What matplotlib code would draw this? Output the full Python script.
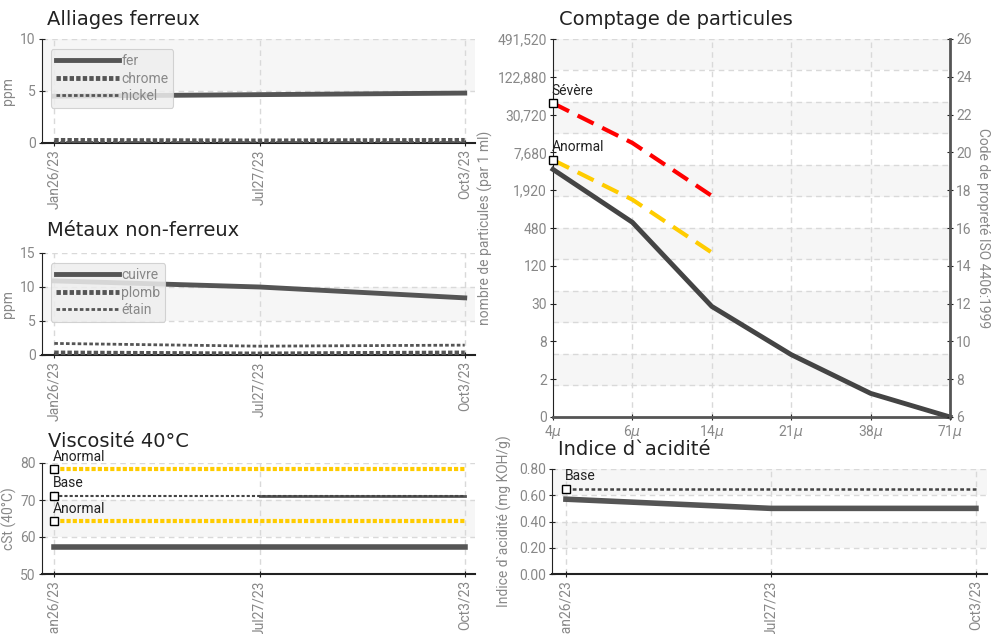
import numpy as np
import matplotlib.pyplot as plt

plt.rcParams['font.family'] = ['Roboto', 'DejaVu Sans']

# --- data ---
dates = ['Jan26/23', 'Jul27/23', 'Oct3/23']

fer = [4.5, 4.65, 4.8]
chrome = [0.25, 0.2, 0.25]
nickel = [0.1, 0.1, 0.1]

cuivre = [10.9, 10.0, 8.4]
plomb = [0.3, 0.15, 0.3]
etain = [1.7, 1.3, 1.45]

visco = [57.4, 57.4, 57.4]
visco_base = [71.1, 71.1, 71.1]
visco_haut = [78.3, 78.3, 78.3]
visco_bas = [64.2, 64.2, 64.2]

acide = [0.57, 0.50, 0.50]
acide_base = [0.65, 0.65, 0.65]

tailles = ['4', '6', '14', '21', '38', '71']
code_iso = [19.1, 16.3, 11.85, 9.3, 7.25, 6.0]
code_anormal = [19.6, 17.5, 14.7]
code_severe = [22.6, 20.5, 17.7]
code_ticks = [6, 8, 10, 12, 14, 16, 18, 20, 22, 24, 26]
compte_labels = ['0', '2', '8', '30', '120', '480', '1,920', '7,680',
                 '30,720', '122,880', '491,520']

DARK = '#555555'
TICKC = '#888888'
BAND = '#f6f6f6'
GRIDC = '#d9d9d9'
YELLOW = '#ffcc00'
TITLEFONT = ['DejaVu Sans']
FS = 10

fig = plt.figure(figsize=(9.96, 6.34), dpi=100)
W, H = 996.0, 634.0


def px_axes(l, t, r, b):
    return fig.add_axes([l / W, 1 - b / H, (r - l) / W, (b - t) / H])


def title(x, y, s):
    fig.text(x / W, 1 - y / H, s, family=TITLEFONT, fontsize=14,
             color='#222222', ha='left', va='baseline')


def style(ax, ylim, yticks, ylabel, bands, n, labx):
    ax.set_ylim(*ylim)
    ax.set_yticks(yticks)
    for lo, hi in bands:
        ax.axhspan(lo, hi, color=BAND, zorder=0, lw=0)
    for y in yticks[1:]:
        ax.axhline(y, color=GRIDC, lw=1, dashes=(4, 3), zorder=0.5)
    for x in range(n):
        ax.axvline(x, color=GRIDC, lw=1, dashes=(4, 3), zorder=0.5)
    ax.spines['top'].set_visible(False)
    ax.spines['right'].set_visible(False)
    ax.spines['left'].set_color('#222222')
    ax.spines['bottom'].set_color('#222222')
    ax.spines['bottom'].set_linewidth(1.5)
    ax.tick_params(direction='inout', length=5, color='#222222',
                   labelcolor=TICKC, labelsize=FS, pad=2)
    ax.set_ylabel(ylabel, color=TICKC, fontsize=FS)
    ax.yaxis.set_label_coords(labx, 0.5)


def date_axis(ax):
    ax.set_xticks(range(len(dates)))
    ax.set_xticklabels(dates, rotation=90)
    ax.set_xlim(-0.06, 2.05)


def seuil(ax, x, y, label, color, dashes, lw=3):
    ax.plot([0, 1, 2], y, color=color, lw=lw, dashes=dashes, zorder=3)
    ax.plot([x], [y[0]], marker='s', ms=6, mfc='white', mec='black',
            mew=1, ls='none', zorder=5)
    ax.annotate(label, (x, y[0]), xytext=(-1, 4), textcoords='offset points',
                ha='left', va='bottom', fontsize=FS, color='#222222')


def legende(ax):
    leg = ax.legend(loc='upper left', bbox_to_anchor=(0.02, 0.9),
                    fontsize=FS, handlelength=4.6, handletextpad=0.15,
                    labelspacing=0.25, borderpad=0.35, borderaxespad=0,
                    fancybox=True, framealpha=0.85, facecolor='#eeeeee',
                    edgecolor='#cccccc', labelcolor=TICKC)
    leg.get_frame().set_linewidth(0.8)


x3 = [0, 1, 2]

# --- Alliages ferreux ---
ax1 = px_axes(42, 39, 475, 143)
title(47, 25, 'Alliages ferreux')
style(ax1, (0, 10), [0, 5, 10], 'ppm', [(5, 10)], 3, -0.062)
date_axis(ax1)
ax1.plot(x3, fer, color=DARK, lw=3.5, label='fer', zorder=3)
ax1.plot(x3, chrome, color=DARK, lw=3.5, dashes=(0.9, 0.45), label='chrome', zorder=3)
ax1.plot(x3, nickel, color=DARK, lw=2, dashes=(1.3, 0.8), label='nickel', zorder=3)
legende(ax1)

# --- Métaux non-ferreux ---
ax2 = px_axes(42, 253, 475, 355)
title(47, 236, 'Métaux non-ferreux')
style(ax2, (0, 15), [0, 5, 10, 15], 'ppm', [(5, 10)], 3, -0.062)
date_axis(ax2)
ax2.plot(x3, cuivre, color=DARK, lw=3.5, label='cuivre', zorder=3)
ax2.plot(x3, plomb, color=DARK, lw=3.5, dashes=(0.9, 0.45), label='plomb', zorder=3)
ax2.plot(x3, etain, color=DARK, lw=2, dashes=(1.3, 0.8), label='étain', zorder=3)
legende(ax2)

# --- Viscosité ---
ax3 = px_axes(42, 463, 475, 574)
title(48, 447, 'Viscosité 40°C')
style(ax3, (50, 80), [50, 60, 70, 80], 'cSt (40°C)', [(60, 70)], 3, -0.057)
date_axis(ax3)
ax3.plot(x3, visco, color=DARK, lw=4, zorder=3)
seuil(ax3, 0, visco_haut, 'Anormal', YELLOW, (1, 0.5))
seuil(ax3, 0, visco_bas, 'Anormal', YELLOW, (1, 0.5))
ax3.plot(x3[1:], visco_base[1:], color=DARK, lw=2, zorder=3)
seuil(ax3, 0, visco_base, 'Base', '#444444', (1.5, 1), lw=1.5)

# --- Indice d'acidité ---
ax5 = px_axes(552, 469, 987, 574)
title(558, 455, 'Indice d`acidité')
style(ax5, (0, 0.8), [0, 0.2, 0.4, 0.6, 0.8], 'Indice d`acidité (mg KOH/g)',
      [(0.2, 0.4), (0.6, 0.8)], 3, -0.092)
ax5.set_yticklabels(['%.2f' % v for v in [0, 0.2, 0.4, 0.6, 0.8]])
ax5.set_xticks(range(len(dates)))
ax5.set_xticklabels(dates, rotation=90)
ax5.set_xlim(-0.068, 2.054)
ax5.plot(x3, acide, color=DARK, lw=4, zorder=3)
seuil(ax5, 0, acide_base, 'Base', '#444444', (1.5, 1), lw=1.8)

# --- Comptage de particules ---
ax4 = px_axes(553, 39, 950, 417)
title(559, 25, 'Comptage de particules')
ax4.set_xlim(0, len(tailles) - 1)
ax4.set_ylim(6, 26)
edges = np.linspace(6, 26, 13)
for k in range(12):
    if k % 2 == 1:
        ax4.axhspan(edges[k], edges[k + 1], color=BAND, zorder=0, lw=0)
for y in edges[1:]:
    ax4.axhline(y, color=GRIDC, lw=1, dashes=(4, 3), zorder=0.5)
for x in range(1, len(tailles) - 1):
    ax4.axvline(x, color=GRIDC, lw=1, dashes=(4, 3), zorder=0.5)
ax4.set_yticks(code_ticks)
ax4.set_yticklabels(compte_labels)
ax4.set_xticks(range(len(tailles)))
ax4.set_xticklabels([t + r'$\mu$' for t in tailles])
ax4.spines['top'].set_visible(False)
ax4.spines['right'].set_visible(False)
ax4.spines['left'].set_color('#222222')
ax4.spines['bottom'].set_color(DARK)
ax4.spines['bottom'].set_linewidth(2)
ax4.tick_params(direction='inout', length=5, color='#222222',
                labelcolor=TICKC, labelsize=FS, pad=2)
ax4.set_ylabel('nombre de particules (par 1 ml)', color=TICKC, fontsize=FS)
ax4.yaxis.set_label_coords(-0.151, 0.5)

xs = range(len(tailles))
ax4.plot(xs, code_iso, color='#444444', lw=3.5, zorder=3, clip_on=False)
ax4.plot(x3, code_severe, color='#ff0000', lw=3, dashes=(4.3, 2.3), zorder=3)
ax4.plot(x3, code_anormal, color=YELLOW, lw=3, dashes=(4.3, 2.3), zorder=3)
for y, lab in [(code_severe[0], 'Sévère'), (code_anormal[0], 'Anormal')]:
    ax4.plot([0], [y], marker='s', ms=6, mfc='white', mec='black', mew=1,
             ls='none', zorder=5, clip_on=False)
    ax4.annotate(lab, (0, y), xytext=(-1, 4), textcoords='offset points',
                 ha='left', va='bottom', fontsize=FS, color='#222222')

ax4r = ax4.twinx()
ax4r.set_ylim(6, 26)
ax4r.set_yticks(code_ticks)
for s in ['top', 'left', 'bottom']:
    ax4r.spines[s].set_visible(False)
ax4r.spines['right'].set_color(DARK)
ax4r.spines['right'].set_linewidth(2)
ax4r.tick_params(direction='inout', length=5, color='#222222',
                 labelcolor=TICKC, labelsize=FS, pad=2)
ax4r.set_ylabel('Code de propreté ISO 4406:1999', color=TICKC, fontsize=FS,
                rotation=270, va='center')
ax4r.yaxis.set_label_coords(1.083, 0.5)

fig.savefig('out.png', dpi=100)
